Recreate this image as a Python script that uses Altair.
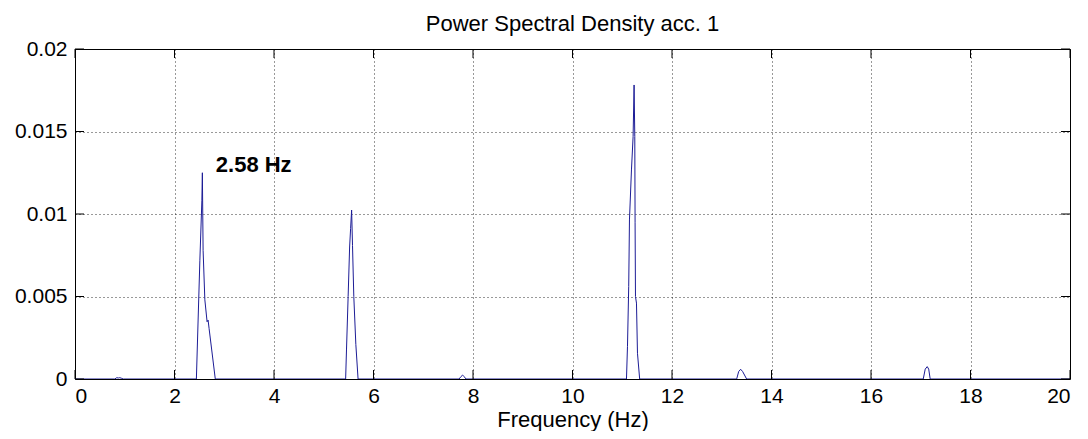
import altair as alt
import pandas as pd

# ---- data ----
freq = [0.0, 0.80, 0.84, 0.87, 0.90, 0.93, 0.97,
        2.44, 2.51, 2.55, 2.56, 2.575, 2.61, 2.655, 2.675, 2.695, 2.82,
        5.44, 5.457, 5.49, 5.52, 5.54, 5.56, 5.578, 5.604, 5.645, 5.69,
        7.72, 7.76, 7.79, 7.82, 7.86,
        11.085, 11.105, 11.13, 11.145, 11.185, 11.218, 11.238, 11.252, 11.258, 11.266, 11.286, 11.306, 11.35,
        13.30, 13.34, 13.38, 13.42, 13.50,
        17.05, 17.09, 17.13, 17.16, 17.19, 20.0]
psd = [0.0, 0.0, 0.00008, 0.00006, 0.00008, 0.00005, 0.0,
       0.0, 0.0072, 0.0108, 0.0125, 0.0078, 0.0048, 0.00347, 0.00357, 0.00307, 0.0,
       0.0, 0.00176, 0.0050, 0.0080, 0.00913, 0.01024, 0.0081, 0.0050, 0.0021, 0.0,
       0.0, 0.00015, 0.00024, 0.00015, 0.0,
       0.0, 0.00196, 0.0056, 0.00964, 0.01267, 0.01469, 0.01782, 0.01469, 0.0095, 0.0050, 0.0046, 0.00156, 0.0,
       0.0, 0.00045, 0.00059, 0.00045, 0.0,
       0.0, 0.0006, 0.00075, 0.0006, 0.0, 0.0]

x_ticks = [0, 2, 4, 6, 8, 10, 12, 14, 16, 18, 20]
y_ticks = [0, 0.005, 0.01, 0.015, 0.02]

ann_text = ["2.58 Hz"]
ann_x = [2.83]
ann_y = [0.01297]

W, H = 995, 330
FONT = "Liberation Sans"

df = pd.DataFrame({"f": freq, "p": psd})
dx = pd.DataFrame({"t": x_ticks})
dy = pd.DataFrame({"t": y_ticks})
da = pd.DataFrame({"x": ann_x, "y": ann_y, "label": ann_text})

xs = alt.Scale(domain=[0, 20], nice=False, zero=False)
ys = alt.Scale(domain=[0, 0.02], nice=False)

line = alt.Chart(df).mark_line(color="#1c1c96", strokeWidth=1, clip=True).encode(
    x=alt.X("f:Q", scale=xs, title="Frequency (Hz)",
            axis=alt.Axis(values=x_ticks, format="d", grid=True)),
    y=alt.Y("p:Q", scale=ys, title=None,
            axis=alt.Axis(values=y_ticks, format=".3~f", grid=True)),
)

text = alt.Chart(da).mark_text(align="left", baseline="middle", fontSize=22,
                               fontWeight="bold", font=FONT, color="black").encode(
    x=alt.X("x:Q", scale=xs), y=alt.Y("y:Q", scale=ys), text="label:N")

tick_len = 9
bt = alt.Chart(dx).mark_rule(color="black", strokeWidth=1).encode(
    x=alt.X("t:Q", scale=xs), y=alt.value(H), y2=alt.value(H - tick_len))
tt = alt.Chart(dx).mark_rule(color="black", strokeWidth=1).encode(
    x=alt.X("t:Q", scale=xs), y=alt.value(0), y2=alt.value(tick_len))
lt = alt.Chart(dy).mark_rule(color="black", strokeWidth=1).encode(
    y=alt.Y("t:Q", scale=ys), x=alt.value(0), x2=alt.value(tick_len))
rt = alt.Chart(dy).mark_rule(color="black", strokeWidth=1).encode(
    y=alt.Y("t:Q", scale=ys), x=alt.value(W), x2=alt.value(W - tick_len))

chart = alt.layer(line, bt, tt, lt, rt, text).properties(
    width=W, height=H,
    title=alt.TitleParams("Power Spectral Density acc. 1", font=FONT, fontSize=22,
                          fontWeight="normal", color="black", anchor="middle", offset=2),
    autosize=alt.AutoSizeParams(type="none"),
    padding={"left": 67, "top": 41, "right": 10, "bottom": 52},
).configure_view(stroke="black", strokeWidth=1).configure_axis(
    labelFont=FONT, titleFont=FONT, labelFontSize=21, titleFontSize=22,
    titleFontWeight="normal", labelColor="black", titleColor="black",
    domain=False, ticks=False, gridColor="black", gridDash=[1, 3], gridOpacity=0.8,
    gridWidth=1,
).configure_axisX(labelPadding=6, titlePadding=3).configure_axisY(labelPadding=8)

chart.save("out.html", embed_options={"renderer": "svg", "actions": False})
